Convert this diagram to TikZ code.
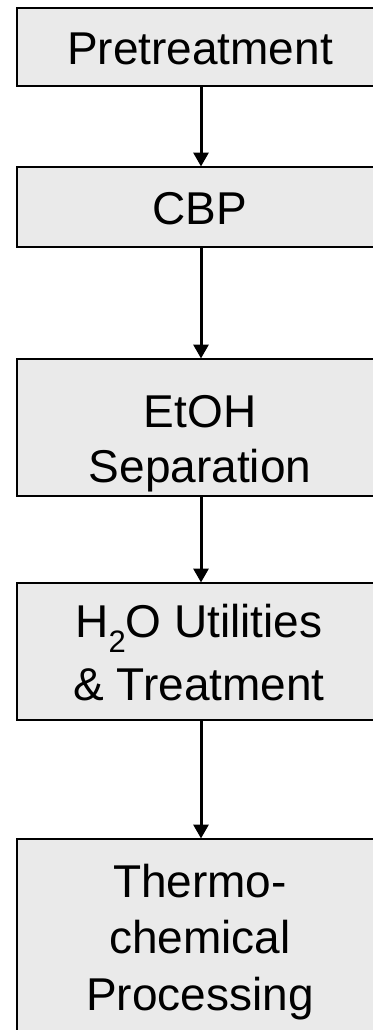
\documentclass[tikz,border=0pt]{standalone}
\usepackage{fontspec}
\setmainfont{Liberation Sans}
\usetikzlibrary{arrows.meta}
\definecolor{boxfill}{HTML}{EAEAEA}
\tikzset{
  stagebox/.style={draw=black, line width=2pt, fill=boxfill, rectangle, inner sep=0pt, minimum width=368pt},
  lbl/.style={anchor=base, inner sep=0pt, font=\fontsize{46pt}{55pt}\selectfont},
  flow/.style={line width=3pt, -{Triangle[length=14pt,width=15pt]}, shorten <=0pt, shorten >=-0.5pt}
}
\begin{document}
\begin{tikzpicture}[x=1pt,y=1pt]
\useasboundingbox (0,0) rectangle (372,-1030);
% boxes
\node[stagebox, minimum height=78pt]  (b1) at (201,-47) {};
\node[stagebox, minimum height=80pt]  (b2) at (201,-207) {};
\node[stagebox, minimum height=137pt] (b3) at (201,-427.5) {};
\node[stagebox, minimum height=137pt] (b4) at (201,-651.5) {};
\node[stagebox, minimum height=220pt] (b5) at (201,-949) {};
% labels
\node[lbl] (t1)  at (200,-65)  {Pretreatment};
\node[lbl] (t2)  at (200,-224) {CBP};
\node[lbl] (t3a) at (200,-427) {EtOH};
\node[lbl] (t3b) at (200,-482) {Separation};
\node[lbl] (t4a) at (199,-637) {H\raisebox{-15pt}{\fontsize{31pt}{31pt}\selectfont 2}O Utilities};
\node[lbl] (t4b) at (199,-700) {\& Treatment};
\node[lbl] (t5a) at (200,-897)  {Thermo-};
\node[lbl] (t5b) at (200,-953)  {chemical};
\node[lbl] (t5c) at (200,-1010) {Processing};
% connectors
\draw[flow] (b1.south) -- (b2.north);
\draw[flow] (b2.south) -- (b3.north);
\draw[flow] (b3.south) -- (b4.north);
\draw[flow] (b4.south) -- (b5.north);
\end{tikzpicture}
\end{document}
